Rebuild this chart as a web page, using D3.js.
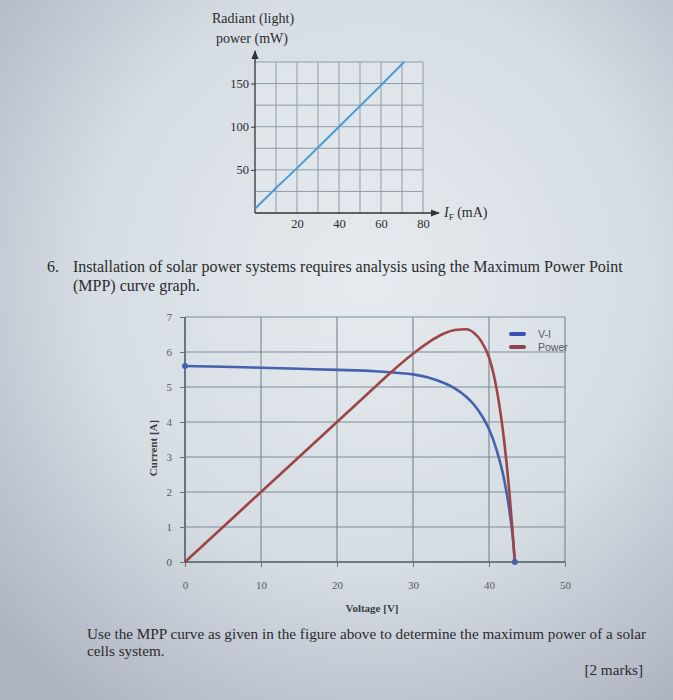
<!DOCTYPE html>
<html><head><meta charset="utf-8">
<script src="https://cdn.jsdelivr.net/npm/d3@7"></script>
<style>html,body{margin:0;padding:0;background:#c9cfd8;}svg{display:block;}</style>
</head><body>
<svg id="c" width="673" height="700"></svg>
<script>
// ---------- data ----------
// top chart: radiant power vs forward current
const ifCurrent = [0, 10, 20, 30, 40, 50, 60, 71];
const radiantPower = [5, 29, 52, 76, 100, 124, 148, 175];
const topXTicks = [20, 40, 60, 80];
const topYTicks = [50, 100, 150];

// main chart: MPP curve
const voltage = [0, 5, 10, 15, 20, 25, 27, 30, 32, 34, 35.5, 37, 38, 39, 40, 41, 42, 42.7, 43.2, 43.4];
const currentVI = [5.6, 5.58, 5.55, 5.52, 5.49, 5.45, 5.42, 5.36, 5.27, 5.12, 4.96, 4.72, 4.5, 4.2, 3.8, 3.2, 2.35, 1.45, 0.55, 0];
const powerCurve = [0, 1, 2, 3, 4, 5, 5.4, 5.95, 6.27, 6.52, 6.63, 6.65, 6.55, 6.3, 5.85, 4.95, 3.45, 1.95, 0.6, 0];
const mainXTicks = [0, 10, 20, 30, 40, 50];
const mainYTicks = [0, 1, 2, 3, 4, 5, 6, 7];
const seriesNames = ["V-I", "Power"];

// ---------- drawing ----------
const svg = d3.select("#c");
const defs = svg.append("defs");
const rg = defs.append("radialGradient").attr("id", "bg").attr("cx", "0.55").attr("cy", "0.4").attr("r", "0.75");
rg.append("stop").attr("offset", "0").attr("stop-color", "#e5ebee");
rg.append("stop").attr("offset", "0.55").attr("stop-color", "#d6dde3");
rg.append("stop").attr("offset", "1").attr("stop-color", "#adb3c1");
svg.append("rect").attr("width", 673).attr("height", 700).attr("fill", "url(#bg)");

const serif = "'Liberation Serif', 'DejaVu Serif', serif";
const sans = "'Liberation Sans', Arial, sans-serif";
const ink = "#2b2b2e";

// ---- top chart ----
const tx = d3.scaleLinear().domain([0, 80]).range([255, 423]);
const ty = d3.scaleLinear().domain([0, 175]).range([213, 62]);
const tg = svg.append("g");
tg.append("rect").attr("x", tx(0)).attr("y", ty(175)).attr("width", tx(80) - tx(0)).attr("height", ty(0) - ty(175))
  .attr("fill", "#e4eaee").attr("opacity", 0.5);
tg.selectAll(".vg").data(d3.range(10, 81, 10)).join("line")
  .attr("x1", d => tx(d)).attr("x2", d => tx(d)).attr("y1", ty(0)).attr("y2", ty(175))
  .attr("stroke", "#8f9ba5").attr("stroke-width", 1);
tg.selectAll(".hg").data(d3.range(25, 176, 25)).join("line")
  .attr("x1", tx(0)).attr("x2", tx(80)).attr("y1", d => ty(d)).attr("y2", d => ty(d))
  .attr("stroke", "#8f9ba5").attr("stroke-width", 1);
// axes with arrows
defs.append("marker").attr("id", "arr").attr("viewBox", "0 0 10 10").attr("refX", 9).attr("refY", 5)
  .attr("markerWidth", 7).attr("markerHeight", 7).attr("orient", "auto")
  .append("path").attr("d", "M0,1 L10,5 L0,9 Z").attr("fill", "#333");
tg.append("line").attr("x1", tx(0)).attr("x2", tx(0)).attr("y1", ty(0)).attr("y2", 51)
  .attr("stroke", "#333").attr("stroke-width", 1.3).attr("marker-end", "url(#arr)");
tg.append("line").attr("x1", tx(0)).attr("x2", 439).attr("y1", ty(0)).attr("y2", ty(0))
  .attr("stroke", "#333").attr("stroke-width", 1.3).attr("marker-end", "url(#arr)");
const tyAxis = tg.append("g").attr("transform", `translate(${tx(0)},0)`)
  .call(d3.axisLeft(ty).tickValues(topYTicks).tickSize(4).tickPadding(2));
tyAxis.select(".domain").remove();
tyAxis.selectAll("line").attr("stroke", "#333");
tyAxis.selectAll("text").attr("font-family", serif).attr("font-size", 12.5).attr("fill", ink);
const txAxis = tg.append("g").attr("transform", `translate(0,${ty(0)})`)
  .call(d3.axisBottom(tx).tickValues(topXTicks).tickSize(0).tickPadding(6));
txAxis.select(".domain").remove();
txAxis.selectAll("text").attr("font-family", serif).attr("font-size", 12.5).attr("fill", ink);
tg.append("path").datum(ifCurrent.map((d, i) => [d, radiantPower[i]]))
  .attr("d", d3.line().x(d => tx(d[0])).y(d => ty(d[1])))
  .attr("fill", "none").attr("stroke", "#4a9dd6").attr("stroke-width", 2);
tg.append("text").attr("x", 212).attr("y", 23).attr("font-family", serif).attr("font-size", 14).attr("fill", ink).text("Radiant (light)");
tg.append("text").attr("x", 216).attr("y", 43).attr("font-family", serif).attr("font-size", 14).attr("fill", ink).text("power (mW)");
const lbl = tg.append("text").attr("x", 444).attr("y", 217).attr("font-family", serif).attr("font-size", 14).attr("fill", ink);
lbl.append("tspan").attr("font-style", "italic").text("I");
lbl.append("tspan").attr("font-size", 9).attr("dy", 3).text("F");
lbl.append("tspan").attr("dy", -3).text(" (mA)");

// ---- question text ----
const q = svg.append("g").attr("font-family", serif).attr("font-size", 16).attr("fill", ink);
q.append("text").attr("x", 47).attr("y", 272).text("6.");
q.append("text").attr("x", 73).attr("y", 272).text("Installation of solar power systems requires analysis using the Maximum Power Point");
q.append("text").attr("x", 73).attr("y", 291).text("(MPP) curve graph.");

// ---- main chart ----
const x = d3.scaleLinear().domain([0, 50]).range([185, 565]);
const y = d3.scaleLinear().domain([0, 7]).range([562, 317]);
const mg = svg.append("g");
mg.selectAll(".mvg").data(mainXTicks).join("line")
  .attr("x1", d => x(d)).attr("x2", d => x(d)).attr("y1", y(0)).attr("y2", y(7))
  .attr("stroke", "#7f8b95").attr("stroke-width", 1.2);
mg.selectAll(".mhg").data(mainYTicks).join("line")
  .attr("x1", x(0)).attr("x2", x(50)).attr("y1", d => y(d)).attr("y2", d => y(d))
  .attr("stroke", "#7f8b95").attr("stroke-width", 1.2);
mg.append("line").attr("x1", x(0)).attr("x2", x(50)).attr("y1", y(0)).attr("y2", y(0)).attr("stroke", "#5d666e").attr("stroke-width", 1.6);
mg.append("line").attr("x1", x(0)).attr("x2", x(0)).attr("y1", y(0)).attr("y2", y(7)).attr("stroke", "#5d666e").attr("stroke-width", 1.6);
const myAxis = mg.append("g").attr("transform", `translate(${x(0)},0)`)
  .call(d3.axisLeft(y).tickValues(mainYTicks).tickFormat(d3.format("d")).tickSize(5).tickPadding(8));
myAxis.select(".domain").remove();
myAxis.selectAll("line").attr("stroke", "#6a737b");
myAxis.selectAll("text").attr("font-family", serif).attr("font-size", 11).attr("fill", "#555b60");
const mxAxis = mg.append("g").attr("transform", `translate(0,${y(0)})`)
  .call(d3.axisBottom(x).tickValues(mainXTicks).tickSize(5).tickPadding(14));
mxAxis.select(".domain").remove();
mxAxis.selectAll("line").attr("stroke", "#6a737b");
mxAxis.selectAll("text").attr("font-family", serif).attr("font-size", 11).attr("fill", "#555b60");

const line = d3.line().x(d => x(d[0])).y(d => y(d[1])).curve(d3.curveMonotoneX);
mg.append("path").datum(voltage.map((v, i) => [v, currentVI[i]])).attr("d", line)
  .attr("fill", "none").attr("stroke", "#4462ad").attr("stroke-width", 2.6);
mg.append("path").datum(voltage.map((v, i) => [v, powerCurve[i]])).attr("d", line)
  .attr("fill", "none").attr("stroke", "#9e4548").attr("stroke-width", 2.6);
mg.selectAll(".dot").data([[voltage[0], currentVI[0]], [voltage[voltage.length - 1], currentVI[currentVI.length - 1]]]).join("circle")
  .attr("cx", d => x(d[0])).attr("cy", d => y(d[1])).attr("r", 3).attr("fill", "#4462ad");

mg.append("text").attr("transform", `translate(157,448) rotate(-90)`).attr("text-anchor", "middle")
  .attr("font-family", serif).attr("font-weight", "bold").attr("font-size", 11).attr("fill", "#3a3f44").text("Current [A]");
mg.append("text").attr("x", 372).attr("y", 612).attr("text-anchor", "middle")
  .attr("font-family", serif).attr("font-weight", "bold").attr("font-size", 11).attr("fill", "#3a3f44").text("Voltage [V]");

// legend
const legColors = ["#3a4fb5", "#8e4448"];
const leg = mg.append("g");
seriesNames.forEach((n, i) => {
  leg.append("line").attr("x1", 511).attr("x2", 524).attr("y1", 334 + i * 13).attr("y2", 334 + i * 13)
    .attr("stroke", legColors[i]).attr("stroke-width", 4).attr("stroke-linecap", "round");
  leg.append("text").attr("x", 538).attr("y", 338 + i * 13).attr("font-family", sans).attr("font-size", 10.5)
    .attr("fill", "#555b60").text(n);
});

// ---- bottom text ----
const b = svg.append("g").attr("font-family", serif).attr("font-size", 15.2).attr("fill", ink);
b.append("text").attr("x", 87).attr("y", 639).text("Use the MPP curve as given in the figure above to determine the maximum power of a solar");
b.append("text").attr("x", 87).attr("y", 656).text("cells system.");
b.append("text").attr("x", 643).attr("y", 675).attr("text-anchor", "end").text("[2 marks]");
</script>
</body></html>
